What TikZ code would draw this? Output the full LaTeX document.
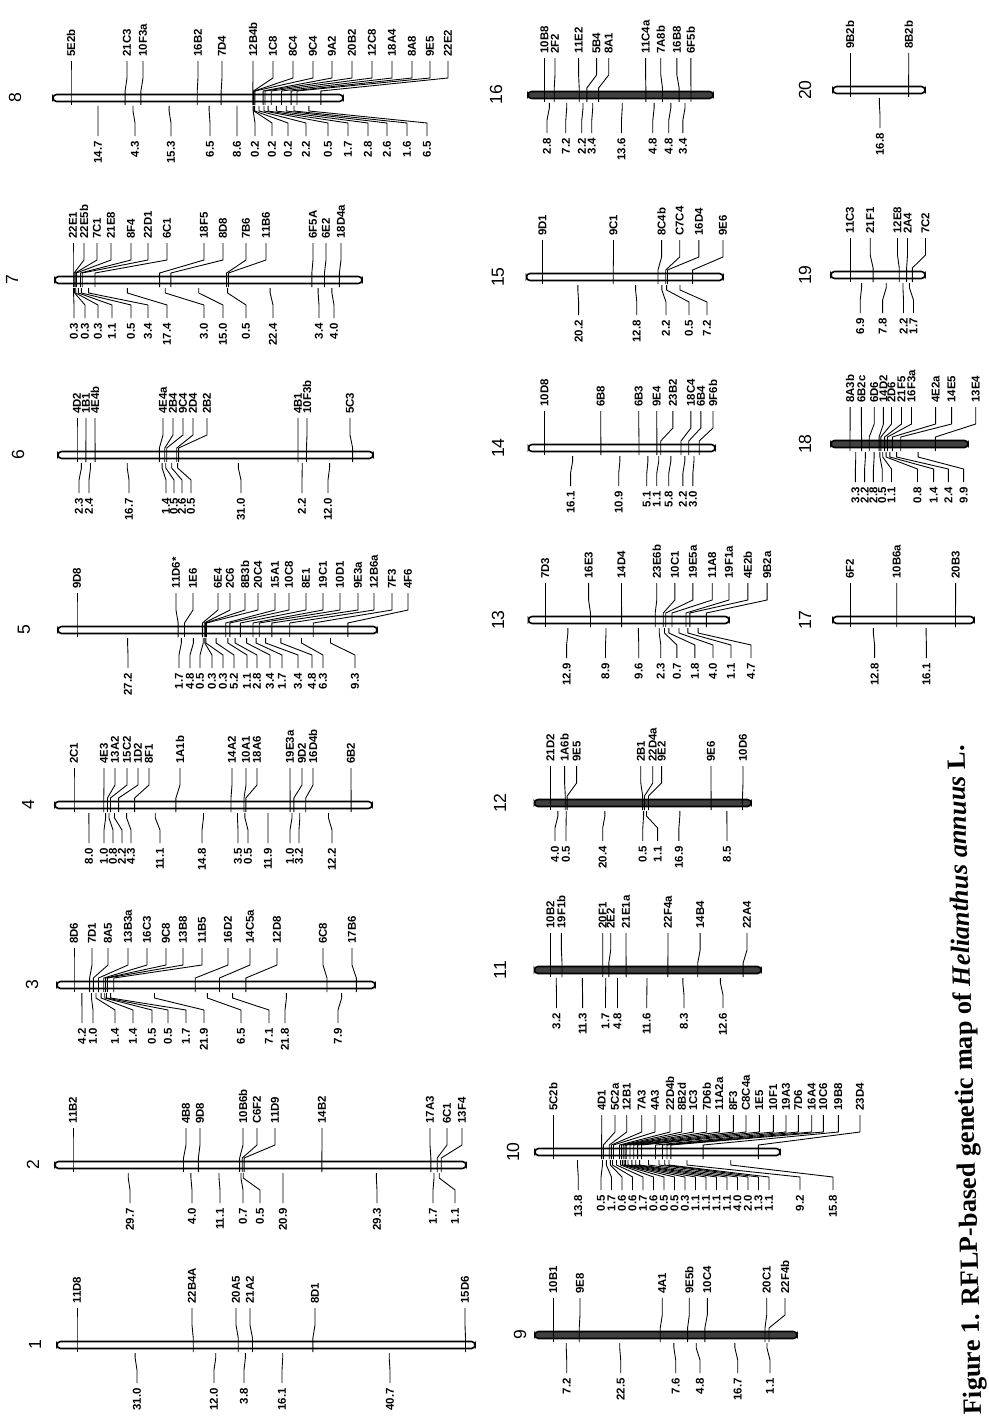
\documentclass[tikz,border=0pt]{standalone}
\usepackage{fontspec}
\setmainfont{Liberation Serif}
\setsansfont{Liberation Sans}
\usetikzlibrary{positioning}

\newcommand{\linkgroup}[9]{%
  \draw[#8] (#4,#3-3.5) rectangle (#5,#3+3.5);
  \node[grpnum] (g#1) at (#2,#3) {#1};
  \xdef\bxprev{#7}%
  \foreach \mk/\lx/\dd/\dlx [count=\i] in {#9}{%
    \pgfmathsetmacro\bx{\bxprev+\dd*#6}%
    \pgfmathsetmacro\dmid{(\bxprev+\bx)/2}%
    \coordinate (g#1b\i) at (\bx,#3);
    \node[mk] (g#1m\i) at (\lx,#3-41) {\mk};
    \draw[linkline] ([yshift=-2.3pt]g#1m\i.west) -- (\lx,#3-20) -- (\bx,#3-7) -- (g#1b\i) -- (\bx,#3+7);
    \ifdim\dd pt>0pt
      \node[dist] (g#1d\i) at (\dlx,#3+43) {\dd};
      \draw[linkline] (\dmid,#3+8) -- (\dmid,#3+13) -- (\dlx,#3+25) -- ([yshift=2.8pt]g#1d\i.east);
    \fi
    \xdef\bxprev{\bx}%
  }%
}

\begin{document}
\begin{tikzpicture}[
  x=0.02cm, y=-0.02cm,
  mk/.style={rotate=90, anchor=west, inner sep=0pt, font=\sffamily\bfseries\fontsize{6.5}{7}\selectfont},
  dist/.style={rotate=90, anchor=east, inner sep=0pt, font=\sffamily\bfseries\fontsize{6.5}{7}\selectfont},
  grpnum/.style={rotate=90, inner sep=0pt, font=\sffamily\fontsize{10}{10}\selectfont},
  caption/.style={rotate=91.5, anchor=east, inner sep=0pt, font=\bfseries\fontsize{15}{16}\selectfont},
  linkline/.style={line width=0.5pt},
  chrom/.style={draw, line width=0.9pt, fill=white, rounded corners=2pt},
  chromdark/.style={draw, line width=0.9pt, fill=black!75, rounded corners=2pt}
]
\useasboundingbox (0,0) rectangle (989,1419);

\linkgroup{8}{15}{98}{53}{343}{3.68}{71}{chrom}{5E2b/71/0/0, 21C3/127/14.7/98, 10F3a/143/4.3/135, 16B2/198/15.3/171, 7D4/222/6.5/210, 12B4b/253/8.6/237, 1C8/273/0.2/255, 8C4/293/0.2/272, 9C4/313/0.2/288, 9A2/332/2.2/306, 20B2/352/0.5/328, 12C8/372/1.7/348, 18A4/392/2.8/368, 8A8/412/2.6/387, 9E5/430/1.6/407, 22E2/448/6.5/427}
\linkgroup{7}{12}{280}{55}{362}{3.72}{73}{chrom}{22E1/73/0/0, 22E5b/84/0.3/74, 7C1/97/0.3/85, 21E8/111/0.3/98, 8F4/131/1.1/112, 22D1/148/0.5/131, 6C1/167/3.4/148, 18F5/204/17.4/167, 8D8/223/3.0/204, 7B6/246/15.0/223, 11B6/266/0.5/246, 6F5A/313/22.4/273, 6E2/326/3.4/319, 18D4a/341/4.0/334}
\linkgroup{6}{18}{455}{58}{373}{3.85}{77}{chrom}{4D2/77/0/0, 1B1/86/2.3/79, 4E4b/95/2.4/89, 4E4a/163/16.7/129, 2B4/173/1.4/166, 9C4/183/0.5/174, 2D4/193/2.6/182, 2B2/207/0.5/191, 4B1/298/31.0/241, 10F3b/307/2.2/302, 5C3/350/12.0/328}
\linkgroup{5}{24}{630}{58}{377}{3.72}{77}{chrom}{9D8/77/0/0, 11D6*/176/27.2/128, 1E6/193/1.7/179, 6E4/218/4.8/190, 2C6/230/0.5/200, 8B3b/245/0.3/212, 20C4/258/0.3/223, 15A1/275/5.2/234, 10C8/289/1.1/247, 8E1/306/2.8/257, 19C1/323/3.4/270, 10D1/340/1.7/282, 9E3a/358/3.4/298, 12B6a/374/4.8/312, 7F3/392/6.3/323, 4F6/408/9.3/355}
\linkgroup{4}{28}{805}{55}{372}{3.72}{74}{chrom}{2C1/74/0/0, 4E3/104/8.0/89, 13A2/115/1.0/104, 15C2/127/0.8/113, 1D2/138/2.2/122, 8F1/149/4.3/131, 1A1b/180/11.1/160, 14A2/232/14.8/202, 10A1/246/3.5/238, 18A6/257/0.5/248, 19E3a/290/11.9/268, 9D2/302/1.0/290, 16D4b/313/3.2/299, 6B2/351/12.2/332}
\linkgroup{3}{32}{985}{57}{375}{3.72}{74}{chrom}{8D6/74/0/0, 7D1/92/4.2/82, 8A5/108/1.0/93, 13B3a/128/1.4/115, 16C3/147/1.4/133, 9C8/166/0.5/152, 13B8/183/0.5/168, 11B5/202/1.7/186, 16D2/228/21.9/204, 14C5a/250/6.5/241, 12D8/277/7.1/269, 6C8/323/21.8/285, 17B6/352/7.9/338}
\linkgroup{2}{33}{1165}{55}{466}{3.72}{73}{chrom}{11B2/73/0/0, 4B8/186/29.7/130, 9D8/200/4.0/192, 10B6b/243/11.1/220, C6F2/257/0.7/243, 11D9/275/0.5/260, 14B2/322/20.9/283, 17A3/430/29.3/377, 6C1/447/1.7/433, 13F4/462/1.1/455}
\linkgroup{1}{35}{1345}{57}{475}{3.75}{77}{chrom}{11D8/77/0/0, 22B4A/192/31.0/137, 20A5/236/12.0/214, 21A2/250/3.8/244, 8D1/315/16.1/282, 15D6/465/40.7/390}

\linkgroup{16}{496}{95}{528}{713}{3.47}{544.5}{chromdark}{10B8/544.5/0/0, 2F2/555/2.8/547, 11E2/578.6/7.2/565.8, 5B4/596.6/2.2/581.8, 8A1/608.7/3.4/591.8, 11C4a/645.6/13.6/621.5, 7A8b/660.8/4.8/652.8, 16B8/676.9/4.8/668.8, 6F5b/690.9/3.4/682.9}
\linkgroup{15}{498}{277}{526.5}{723}{3.5}{542.5}{chrom}{9D1/542.5/0/0, 9C1/613.5/20.2/578.6, 8C4b/661.6/12.8/636.8, C7C4/679.7/2.2/666, 16D4/698.9/0.5/689, 9E6/723/7.2/707}
\linkgroup{14}{498}{448}{528.5}{715}{3.5}{544.5}{chrom}{10D8/544.5/0/0, 6B8/600.7/16.1/570.6, 6B3/638.8/10.9/618.7, 9E4/656.8/5.1/646.8, 23B2/672.9/1.1/656.8, 18C4/690.9/5.8/668.8, 6B4/700.9/2.2/682.9, 9F6b/713/3.0/692.9}
\linkgroup{13}{498}{620}{528.5}{729}{3.5}{545.3}{chrom}{7D3/545.3/0/0, 16E3/588.6/12.9/566.6, 14D4/621.5/8.9/605.5, 23E6b/656.8/9.6/638.8, 10C1/674.9/2.3/660.8, 19E5a/692.9/0.7/676.9, 11A8/712.2/1.8/694.9, 19F1a/729/4.0/713, 4E2b/747.9/1.1/731, 9B2a/767.1/4.7/751}
\linkgroup{12}{500}{803}{534.5}{751}{3.7}{550.5}{chromdark}{21D2/550.5/0/0, 1A6b/564.6/4.0/555, 9E5/576.6/0.5/566, 2B1/640.8/20.4/602.7, 22D4a/652.8/0.5/642.8, 9E2/661.6/1.1/657.6, 9E6/711/16.9/678.9, 10D6/743/8.5/727}
\linkgroup{11}{500}{970}{534.5}{761}{3.6}{550.5}{chromdark}{10B2/550.5/0/0, 19F1b/561.4/3.2/556.5, 20F1/602.7/11.3/582.6, 2E2/610.7/1.7/605.5, 21E1a/626/4.8/617.5, 22F4a/668/11.6/646.8, 14B4/700.1/8.3/684, 22A4/747/12.6/723}
\linkgroup{10}{513}{1152}{535}{780}{3.5}{553.3}{chrom}{5C2b/553.3/0/0, 4D1/601.7/13.8/578.3, 5C2a/615/0.5/601, 12B1/626.7/1.7/611.5, 7A3/641.7/0.6/622, 4A3/655/0.6/632.5, 22D4b/670/1.7/643, 8B2d/681.7/0.6/653.5, 1C3/693.3/0.5/664, 7D6b/706.7/0.5/674.5, 11A2a/719.3/0.3/685, 8F3/733.3/1.1/695.5, C8C4a/746/1.1/706, 1E5/759.3/1.1/716.5, 10F1/773.3/1.1/727, 19A3/786/4.0/737.5, 7D6/798.3/2.0/748, 16A4/811.7/1.3/758.5, 10C6/823.3/1.1/769, 19B8/838.3/9.2/800, 23D4/860/15.8/833}
\linkgroup{9}{520}{1335}{535}{797}{3.6}{553.3}{chromdark}{10B1/553.3/0/0, 9E8/580/7.2/566.7, 4A1/662.3/22.5/620.7, 9E5b/689.3/7.6/675.7, 10C4/707.3/4.8/700, 20C1/766.7/16.7/737.7, 22F4b/785/1.1/770}

\linkgroup{20}{805}{90}{833}{925}{3.49}{850}{chrom}{9B2b/850/0/0, 8B2b/908.7/16.8/880}
\linkgroup{19}{805}{275}{831}{925}{3.35}{850}{chrom}{11C3/850/0/0, 21F1/870.2/6.9/860.2, 12E8/897.5/7.8/882.6, 2A4/907.5/2.2/903.5, 7C2/925.5/1.7/913.5}
\linkgroup{18}{805}{444}{831}{968}{3.5}{850}{chromdark}{8A3b/850.1/0/0, 6B2c/861.4/3.3/855.4, 6D6/874.2/2.2/864.6, 14D2/883.4/2.8/873.4, 2D6/891.5/0.5/882.2, 21F5/901.5/1.1/891.5, 16F3a/911.5/0.8/917.5, 4E2a/935.6/1.4/933.6, 14E5/951.6/2.4/948.4, 13E4/975.7/9.9/963.6}
\linkgroup{17}{805}{620}{833}{974}{3.65}{850}{chrom}{6F2/850/0/0, 10B6a/896.7/12.8/874.6, 20B3/955.6/16.1/926.4}

\node[caption] (cap) at (958,745) {Figure 1. RFLP-based genetic map of \textit{Helianthus annuus} L.};
\end{tikzpicture}
\end{document}
